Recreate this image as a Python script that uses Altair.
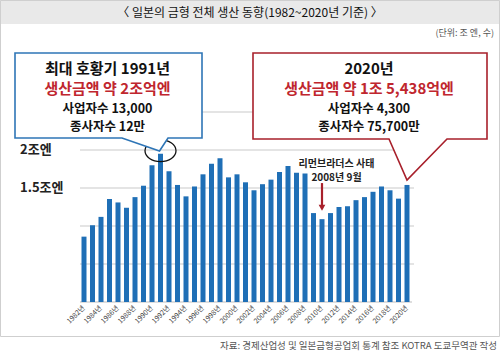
import altair as alt
import pandas as pd

# ---- data ----
years = [str(y) for y in range(1982, 2021)]
values = [0.86, 1.01, 1.12, 1.355, 1.31, 1.24, 1.38, 1.53, 1.80, 1.95,
          1.72, 1.54, 1.39, 1.52, 1.68, 1.82, 1.89, 1.64, 1.68, 1.575,
          1.47, 1.55, 1.61, 1.71, 1.79, 1.70, 1.69, 1.17, 1.09, 1.17,
          1.25, 1.26, 1.34, 1.38, 1.45, 1.52, 1.47, 1.36, 1.54]
tick_years = years[::2]
grid_values = [0.5, 1.0, 1.5, 2.0, 2.5]
ylabel_values = [2.0, 1.5]
ylabel_texts = ["2조엔", "1.5조엔"]

title_text = "〈 일본의 금형 전체 생산 동향(1982~2020년 기준) 〉"
unit_text = "(단위: 조 엔, 수)"
source_text = "자료: 경제산업성 및 일본금형공업회 통계 참조 KOTRA 도쿄무역관 작성"
left_lines = ["최대 호황기 1991년", "생산금액 약 2조억엔", "사업자수 13,000", "종사자수 12만"]
right_lines = ["2020년", "생산금액 약 1조 5,438억엔", "사업자수 4,300", "종사자수 75,700만"]
lehman_lines = ["리먼브라더스 사태", "2008년 9월"]

FONT = "Noto Sans CJK KR"
BAR = "#1f6fb6"
RED = "#c0262e"
DARKRED = "#a8202b"
BLUE = "#2e75b6"

xscale = alt.Scale(type="band", domain=years, range=[79.75, 411.25], paddingInner=0, paddingOuter=0)
yscale = alt.Scale(domain=[0, 2.5], range=[302, 112], nice=False, zero=False)

df = pd.DataFrame({"year": years, "value": values})
dummy = alt.Data(values=[{}])

def X(field="year"):
    return alt.X(f"{field}:O", scale=xscale, axis=None)

def Y(field="value"):
    return alt.Y(f"{field}:Q", scale=yscale, axis=None)

# background pieces
band = alt.Chart(dummy).mark_rect(color="#e9e9e9").encode(
    x=alt.value(0), x2=alt.value(500), y=alt.value(0), y2=alt.value(24))
frame = alt.Chart(dummy).mark_rect(fill=None, stroke="#cfcfcf", strokeWidth=1).encode(
    x=alt.value(0.5), x2=alt.value(499.5), y=alt.value(0.5), y2=alt.value(336.5))
title = alt.Chart(dummy).mark_text(font=FONT, fontSize=12, color="#111", align="center", baseline="middle").encode(
    x=alt.value(250), y=alt.value(12.5), text=alt.value(title_text))
unit = alt.Chart(dummy).mark_text(font=FONT, fontSize=9, color="#555", align="right", baseline="middle").encode(
    x=alt.value(494), y=alt.value(33), text=alt.value(unit_text))
source = alt.Chart(dummy).mark_text(font=FONT, fontSize=9.5, color="#555", align="right", baseline="middle").encode(
    x=alt.value(497), y=alt.value(346), text=alt.value(source_text))

# grid
grid = alt.Chart(pd.DataFrame({"v": grid_values})).mark_rule(color="#c9c9c9", strokeWidth=1).encode(
    y=Y("v"), x=alt.value(80), x2=alt.value(414))
base = alt.Chart(pd.DataFrame({"v": [0.0]})).mark_rule(color="#bdbdbd", strokeWidth=1).encode(
    y=Y("v"), x=alt.value(80), x2=alt.value(412))
ylabels = alt.Chart(pd.DataFrame({"v": ylabel_values, "t": ylabel_texts})).mark_text(
    font=FONT, fontSize=13, fontWeight="bold", color="#222", align="left", baseline="middle").encode(
    y=Y("v"), x=alt.value(20), text="t:N")

bars = alt.Chart(df).mark_bar(color=BAR, size=5).encode(x=X(), y=Y())

xlabels = alt.Chart(pd.DataFrame({"year": tick_years, "t": [y + "년" for y in tick_years]})).mark_text(
    font=FONT, fontSize=7, color="#444", angle=315, align="right", baseline="middle").encode(
    x=X(), y=alt.value(307), text="t:N")

# ellipse around 1991 peak
ellipse_path = "M -1 0 A 1 0.7 0 1 0 1 0 A 1 0.7 0 1 0 -1 0 Z"
ellipse = alt.Chart(pd.DataFrame({"year": ["1991"], "v": [1.99]})).mark_point(
    shape=ellipse_path, size=31 * 31, filled=False, stroke="#111", strokeWidth=1.3, opacity=1).encode(
    x=X(), y=Y("v"))

# Lehman arrow
arrow_shaft = alt.Chart(pd.DataFrame({"year": ["2010"], "a": [1.565], "b": [1.27]})).mark_rule(
    color=DARKRED, strokeWidth=2.2).encode(x=X(), y=Y("a"), y2="b:Q")
arrow_head = alt.Chart(pd.DataFrame({"year": ["2010"], "v": [1.24]})).mark_point(
    shape="triangle-down", size=45, filled=True, color=DARKRED, opacity=1).encode(x=X(), y=Y("v"))
lehman = alt.Chart(pd.DataFrame({"t": lehman_lines, "py": [164, 177.5]})).mark_text(
    font=FONT, fontSize=10, fontWeight="bold", color="#222", align="center", baseline="middle").encode(
    x=alt.value(336.5), y=alt.Y("py:Q", scale=None, axis=None), text="t:N")

# callouts (box with a pointer tail, drawn as one closed area)
def callout(xs, y2s, top, color):
    d = pd.DataFrame({"px": xs, "py": [top] * len(xs), "py2": y2s})
    return alt.Chart(d).mark_area(fill="white", stroke=color, strokeWidth=1.6, interpolate="linear",
                                  opacity=1, fillOpacity=1, orient="vertical").encode(
        x=alt.X("px:Q", scale=None, axis=None),
        y=alt.Y("py:Q", scale=None, axis=None, stack=None),
        y2="py2:Q")

left_box = callout([15, 122, 159.5, 168, 202], [138, 138, 151, 138, 138], 53, BLUE)
right_box = callout([253, 389, 407, 447, 487], [139, 139, 180, 139, 139], 53, DARKRED)

def box_text(lines, cx):
    d = pd.DataFrame({
        "t": lines,
        "py": [68.5, 89, 108.5, 127],
        "s": [15, 15, 12.5, 12.5],
        "c": ["#111", RED, "#111", "#111"],
    })
    return alt.Chart(d).mark_text(font=FONT, fontWeight="bold", align="center", baseline="middle").encode(
        x=alt.value(cx),
        y=alt.Y("py:Q", scale=None, axis=None),
        text="t:N",
        size=alt.Size("s:Q", scale=None, legend=None),
        color=alt.Color("c:N", scale=None, legend=None))

left_text = box_text(left_lines, 107.5)
right_text = box_text(right_lines, 369)

chart = alt.layer(
    band, frame, title, unit, source,
    grid, base, ylabels, bars, xlabels,
    ellipse, arrow_shaft, arrow_head, lehman,
    left_box, right_box, left_text, right_text,
).resolve_scale(x="independent", y="independent", color="independent", size="independent").properties(
    width=500, height=353, padding=0, autosize=alt.AutoSizeParams(type="none"), background="white"
).configure_view(stroke=None)

chart.save("out.html", embed_options={"renderer": "svg", "actions": False})
